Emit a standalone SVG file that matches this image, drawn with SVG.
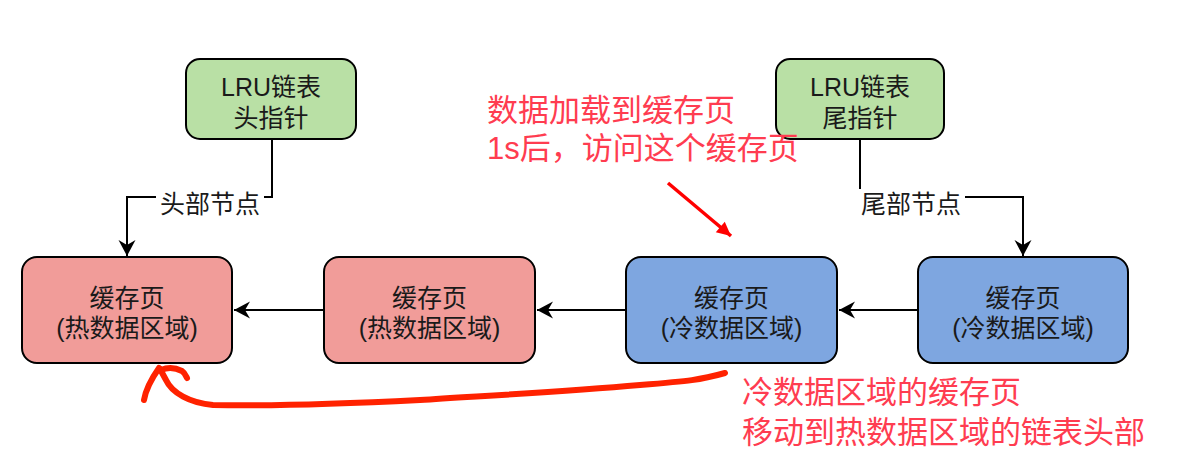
<svg xmlns="http://www.w3.org/2000/svg" width="1204" height="463" viewBox="0 0 1204 463">
  <style>
    .box { stroke: #000; stroke-width: 2; }
    .hot { fill: #f19c99; }
    .cold { fill: #7ea6e0; }
    .ptr { fill: #b9e0a5; }
    .t { font-family: "Liberation Sans", "Noto Sans CJK SC", sans-serif; font-size: 25px; fill: #1a1a1a; text-anchor: middle; }
    .note { font-family: "Liberation Sans", "Noto Sans CJK SC", sans-serif; font-size: 31px; fill: #ff3c50; }
    .edge { fill: none; stroke: #000; stroke-width: 2; }
    .pen { fill: none; stroke: #ff2200; stroke-width: 6; stroke-linecap: round; stroke-linejoin: round; }
  </style>
  <defs>
    <marker id="arr" markerUnits="userSpaceOnUse" markerWidth="20" markerHeight="20" viewBox="-18 -10 20 20" refX="0" refY="0" orient="auto">
      <path d="M0,0 L-16,-8.5 L-11,0 L-16,8.5 Z" fill="#000"/>
    </marker>
    <marker id="redarr" markerUnits="userSpaceOnUse" markerWidth="20" markerHeight="20" viewBox="-18 -10 20 20" refX="0" refY="0" orient="auto">
      <path d="M0,0 L-14,-7 L-14,7 Z" fill="#ff0000"/>
    </marker>
  </defs>

  <rect width="1204" height="463" fill="#fff"/>

  <g id="connectors">
    <path class="edge" d="M272,139 V197 H127 V256" marker-end="url(#arr)"/>
    <path class="edge" d="M860,139 V197 H1023 V256" marker-end="url(#arr)"/>
    <path class="edge" d="M324,310 H234" marker-end="url(#arr)"/>
    <path class="edge" d="M626,310 H537" marker-end="url(#arr)"/>
    <path class="edge" d="M918,310 H839" marker-end="url(#arr)"/>
    <rect x="156" y="189" width="108" height="28" fill="#fff"/>
    <text class="t" x="210" y="213">头部节点</text>
    <rect x="857" y="189" width="108" height="28" fill="#fff"/>
    <text class="t" x="911" y="213">尾部节点</text>
  </g>

  <g id="head-pointer">
    <rect class="box ptr" x="186" y="59" width="170" height="80" rx="14"/>
    <text class="t" x="271" y="96">LRU链表</text>
    <text class="t" x="271" y="127">头指针</text>
  </g>
  <g id="tail-pointer">
    <rect class="box ptr" x="776" y="59" width="168" height="80" rx="14"/>
    <text class="t" x="860" y="96">LRU链表</text>
    <text class="t" x="860" y="127">尾指针</text>
  </g>

  <g id="hot-page-1">
    <rect class="box hot" x="22" y="257" width="210" height="106" rx="15"/>
    <text class="t" x="127" y="307">缓存页</text>
    <text class="t" x="127" y="337">(热数据区域)</text>
  </g>
  <g id="hot-page-2">
    <rect class="box hot" x="324" y="257" width="211" height="106" rx="15"/>
    <text class="t" x="429.5" y="307">缓存页</text>
    <text class="t" x="429.5" y="337">(热数据区域)</text>
  </g>
  <g id="cold-page-1">
    <rect class="box cold" x="626" y="257" width="211" height="106" rx="15"/>
    <text class="t" x="731.5" y="307">缓存页</text>
    <text class="t" x="731.5" y="337">(冷数据区域)</text>
  </g>
  <g id="cold-page-2">
    <rect class="box cold" x="918" y="257" width="210" height="106" rx="15"/>
    <text class="t" x="1023" y="307">缓存页</text>
    <text class="t" x="1023" y="337">(冷数据区域)</text>
  </g>

  <g id="annotation-access">
    <text class="note" x="487" y="121">数据加载到缓存页</text>
    <text class="note" x="487" y="159">1s后，访问这个缓存页</text>
    <path d="M668,183 L731,236" fill="none" stroke="#ff0000" stroke-width="3.5" marker-end="url(#redarr)"/>
  </g>

  <g id="annotation-move">
    <path class="pen" d="M725,373 C700,380 690,381 640,385 C560,392 480,396 420,400 C340,404 260,406 213,405 C190,403 172,393 166,380 L160,369"/>
    <path class="pen" d="M159,368 C152,378 146,388 144,400"/>
    <path class="pen" d="M161,370 C168,367 176,368 182,371 C185,373 186,376 187,378"/>
    <text class="note" x="742" y="403">冷数据区域的缓存页</text>
    <text class="note" x="742" y="443">移动到热数据区域的链表头部</text>
  </g>
</svg>
